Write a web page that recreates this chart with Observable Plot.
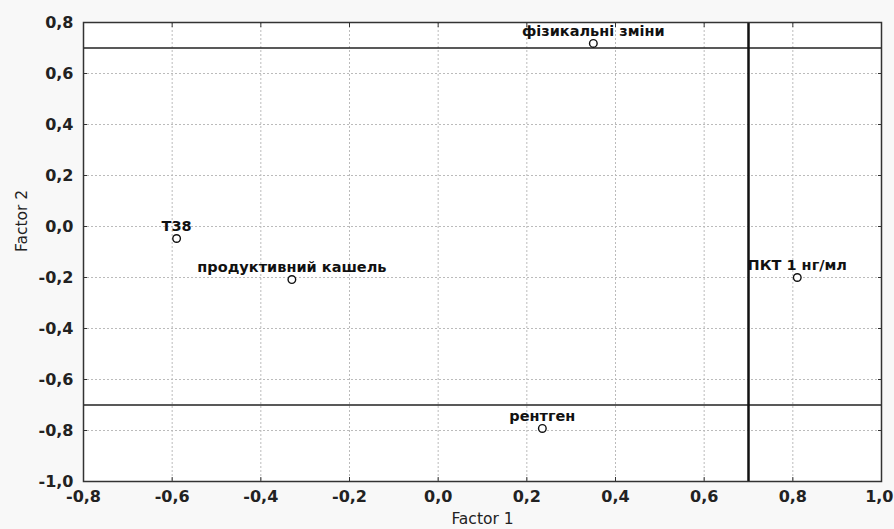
<!DOCTYPE html>
<html>
<head>
<meta charset="utf-8">
<script src="https://cdn.jsdelivr.net/npm/d3@7"></script>
<script src="https://cdn.jsdelivr.net/npm/@observablehq/plot@0.6"></script>
<style>
  html, body { margin: 0; padding: 0; background: #f8f8f8; overflow: hidden; }
  svg { display: block; }
</style>
</head>
<body>
<div id="chart"></div>
<script>
const labels = ["T38", "продуктивний кашель", "фізикальні зміни", "ПКТ 1 нг/мл", "рентген"];
const factor1 = [-0.59, -0.33, 0.35, 0.81, 0.235];
const factor2 = [-0.047, -0.208, 0.718, -0.2, -0.792];
const xTicks = [-0.8, -0.6, -0.4, -0.2, 0.0, 0.2, 0.4, 0.6, 0.8, 1.0];
const yTicks = [-1.0, -0.8, -0.6, -0.4, -0.2, 0.0, 0.2, 0.4, 0.6, 0.8];
const hLines = [0.7, -0.7];
const vLines = [0.7];

const data = labels.map((l, i) => ({label: l, x: factor1[i], y: factor2[i]}));
const fmt = d => d.toFixed(1).replace(".", ",");
const blank = () => "";
const font = "DejaVu Sans, Liberation Sans, Arial, sans-serif";
const tickText = {tickFormat: fmt, tickSize: 0, fontSize: 16, fontWeight: "bold", fill: "#222", label: null};

const chart = Plot.plot({
  width: 894,
  height: 529,
  marginLeft: 83,
  marginRight: 13,
  marginTop: 22,
  marginBottom: 48,
  style: {fontFamily: font, background: "#f8f8f8"},
  x: {domain: [-0.8, 1.0]},
  y: {domain: [-1.0, 0.8]},
  marks: [
    Plot.rect([0], {x1: -0.8, x2: 1.0, y1: -1.0, y2: 0.8, fill: "white"}),
    Plot.ruleX(xTicks.slice(1, -1), {stroke: "#bbb", strokeDasharray: "2,2", strokeWidth: 1}),
    Plot.ruleY(yTicks.slice(1, -1), {stroke: "#bbb", strokeDasharray: "2,2", strokeWidth: 1}),
    Plot.axisX({...tickText, ticks: xTicks.slice(0, -1), tickPadding: 9}),
    Plot.axisX({...tickText, ticks: xTicks.slice(-1), tickPadding: 9, textAnchor: "end", dx: 12}),
    Plot.axisY({...tickText, ticks: yTicks, tickPadding: 10}),
    Plot.axisX({ticks: xTicks, anchor: "bottom", tickSize: -4, tickFormat: blank, label: null, stroke: "#333"}),
    Plot.axisX({ticks: xTicks, anchor: "top", tickSize: -4, tickFormat: blank, label: null, stroke: "#333"}),
    Plot.axisY({ticks: yTicks, anchor: "left", tickSize: -4, tickFormat: blank, label: null, stroke: "#333"}),
    Plot.axisY({ticks: yTicks, anchor: "right", tickSize: -4, tickFormat: blank, label: null, stroke: "#333"}),
    Plot.text(["Factor 1"], {frameAnchor: "bottom", dy: 42, fontSize: 15.5, fill: "#222"}),
    Plot.text(["Factor 2"], {frameAnchor: "left", dx: -61, rotate: -90, fontSize: 15.5, fill: "#222"}),
    Plot.ruleY(hLines, {stroke: "#222", strokeWidth: 1.5}),
    Plot.ruleX(vLines, {stroke: "#111", strokeWidth: 2.5}),
    Plot.frame({stroke: "#333", strokeWidth: 1.5}),
    Plot.dot(data, {x: "x", y: "y", r: 3.8, stroke: "#111", strokeWidth: 1.4, fill: "white"}),
    Plot.text(data, {x: "x", y: "y", text: "label", dy: -12, fontSize: 14.5, fontWeight: "bold", fill: "#111"})
  ]
});
document.getElementById("chart").appendChild(chart);
</script>
</body>
</html>
